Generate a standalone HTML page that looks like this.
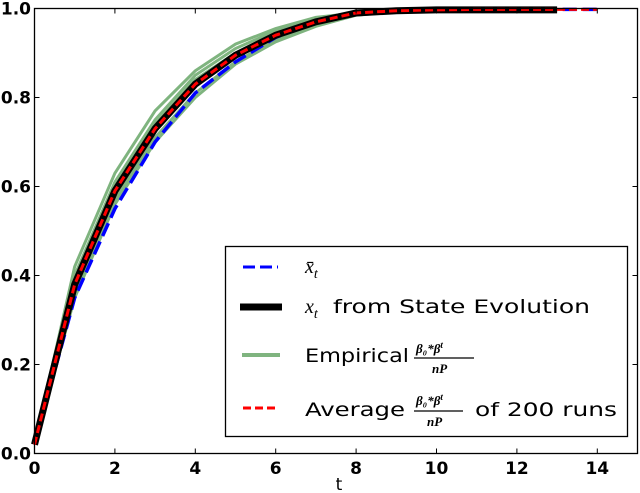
<!DOCTYPE html>
<html><head><meta charset="utf-8"><style>
body{margin:0;background:#fff;width:640px;height:493px;overflow:hidden}
svg{display:block;font-family:"DejaVu Sans","Liberation Sans",sans-serif}
</style></head><body>
<svg id="chart" width="640" height="493">
<g id="plot"></g>
<rect x="34.5" y="8.5" width="603" height="445" fill="none" stroke="#000" stroke-width="1.3"/>
<g id="ticks"></g>
<text x="339" y="490" font-size="17" text-anchor="middle">t</text>
<g>
<rect x="225.5" y="246.5" width="402" height="190" fill="#fff" stroke="#000" stroke-width="1.3"/>
<line x1="243" y1="267" x2="278" y2="267" stroke="#0000ff" stroke-width="3" stroke-dasharray="12,5"/>
<text x="305" y="273" font-size="20" font-family="Liberation Serif,serif" font-style="italic">x̄<tspan font-size="14" dy="5">t</tspan></text>
<line x1="240" y1="307" x2="282" y2="307" stroke="#000" stroke-width="7"/>
<text x="305" y="313" font-size="20" font-family="Liberation Serif,serif" font-style="italic">x<tspan font-size="14" dy="5">t</tspan></text>
<text x="333" y="313" font-size="19" textLength="257" lengthAdjust="spacingAndGlyphs">from State Evolution</text>
<line x1="242" y1="355" x2="280" y2="355" stroke="#7fb47f" stroke-width="4"/>
<text x="305" y="362" font-size="19" textLength="104" lengthAdjust="spacingAndGlyphs">Empirical</text>
<g font-family="Liberation Serif,serif" font-style="italic" font-weight="bold" font-size="13">
<text x="416" y="353">β₀*β<tspan font-size="9" dy="-5">t</tspan></text><line x1="414" y1="358" x2="474" y2="358" stroke="#000" stroke-width="1.3"/><text x="432" y="373">nP</text></g>
<line x1="243" y1="408" x2="278" y2="408" stroke="#ff0000" stroke-width="3" stroke-dasharray="8,4"/>
<text x="305" y="416" font-size="19" textLength="100" lengthAdjust="spacingAndGlyphs">Average</text>
<g font-family="Liberation Serif,serif" font-style="italic" font-weight="bold" font-size="13">
<text x="416" y="405">β₀*β<tspan font-size="9" dy="-5">t</tspan></text><line x1="414" y1="411" x2="463" y2="411" stroke="#000" stroke-width="1.3"/><text x="427" y="426">nP</text></g>
<text x="475" y="416" font-size="19" textLength="142" lengthAdjust="spacingAndGlyphs">of 200 runs</text>
</g>
</svg>
<script>
const tVals=[0,1,2,3,4,5,6,7,8,9,10,11,12,13,14];
const xbar=[0.02,0.35,0.55,0.70,0.81,0.88,0.935,0.97,0.99,0.995,0.997,0.998,0.998,0.998,0.998];
const stateEvo=[0.02,0.38,0.59,0.73,0.83,0.895,0.94,0.97,0.99,0.995,0.997,0.997,0.997,0.997];
const avgRuns=[0.02,0.38,0.59,0.73,0.83,0.895,0.94,0.97,0.99,0.995,0.997,0.998,0.998,0.998,0.998];
const empRuns=[
[0.02,0.40,0.61,0.75,0.85,0.91,0.95,0.975,0.99,0.995,0.997,0.997,0.997,0.997],
[0.02,0.36,0.57,0.71,0.81,0.88,0.93,0.965,0.985,0.993,0.996,0.997,0.997,0.997],
[0.02,0.42,0.63,0.77,0.86,0.92,0.955,0.98,0.99,0.995,0.997,0.997,0.997,0.997],
[0.02,0.35,0.56,0.70,0.80,0.875,0.925,0.96,0.985,0.993,0.996,0.997,0.997,0.997],
[0.02,0.39,0.60,0.74,0.84,0.90,0.945,0.975,0.99,0.995,0.997,0.997,0.997,0.997]];
const xTicks=[0,2,4,6,8,10,12,14];
const yTicks=[0.0,0.2,0.4,0.6,0.8,1.0];
const X=v=>34.5+v*40.2, Y=v=>453.5-v*445;
const NS='http://www.w3.org/2000/svg';
const plot=document.getElementById('plot'), tk=document.getElementById('ticks');
function line(vals,color,w,dash,name){
 const p=document.createElementNS(NS,'polyline');
 p.setAttribute('points',vals.map((v,i)=>X(tVals[i])+','+Y(v)).join(' '));
 p.setAttribute('fill','none');p.setAttribute('stroke',color);p.setAttribute('stroke-width',w);
 if(dash)p.setAttribute('stroke-dasharray',dash);
 
 
 plot.appendChild(p);
}
empRuns.forEach((r,i)=>line(r,'#7fb47f',3,null,'empirical-run-'+i));
line(xbar,'#0000ff',3.5,'14,6','xbar-line');
line(stateEvo,'#000',7,null,'state-evolution-line');
line(avgRuns,'#ff0000',3,'8,4','average-line');
xTicks.forEach(v=>{
 const l=document.createElementNS(NS,'path');
 l.setAttribute('d',`M${X(v)},453.5v-5M${X(v)},8.5v5`);l.setAttribute('stroke','#000');
 
 
 tk.appendChild(l);
 const t=document.createElementNS(NS,'text');
 t.setAttribute('x',X(v));t.setAttribute('y',474);t.setAttribute('font-size','17');t.setAttribute('font-weight','bold');t.setAttribute('text-anchor','middle');
 t.textContent=v;
 
 
 tk.appendChild(t);
});
yTicks.forEach(v=>{
 const l=document.createElementNS(NS,'path');
 l.setAttribute('d',`M34.5,${Y(v)}h5M637.5,${Y(v)}h-5`);l.setAttribute('stroke','#000');
 
 
 tk.appendChild(l);
 const t=document.createElementNS(NS,'text');
 t.setAttribute('x',31);t.setAttribute('y',Y(v)+6);t.setAttribute('font-size','17');t.setAttribute('font-weight','bold');t.setAttribute('text-anchor','end');
 t.textContent=v.toFixed(1);
 
 
 tk.appendChild(t);
});
</script>
</body></html>
